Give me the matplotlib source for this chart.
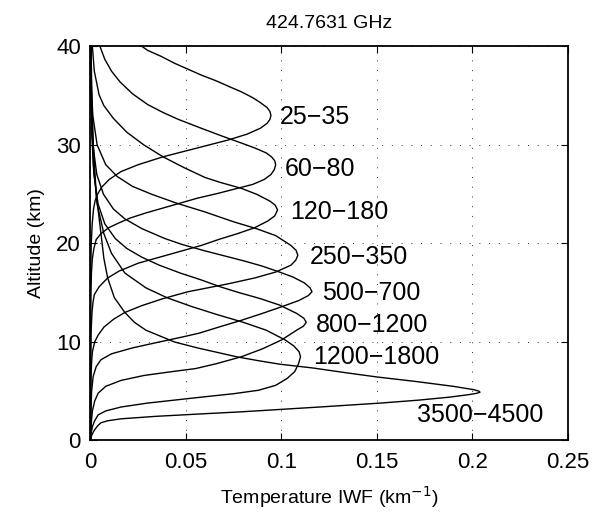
import matplotlib
matplotlib.use('Agg')
import matplotlib.pyplot as plt

plt.rcParams['font.family'] = ['Liberation Sans', 'DejaVu Sans']

# frequency band labels
bands = ['25\u221235', '60\u221280', '120\u2212180', '250\u2212350',
         '500\u2212700', '800\u22121200', '1200\u22121800', '3500\u22124500']

# weighting functions: altitude (km) and IWF (km^-1)
alt_25 = [0, 8, 14, 18, 20, 22, 23.5, 24.4, 25.0, 25.7, 26.5, 27.3, 28.0, 28.8, 29.3, 29.8, 30.5, 31.1,
          31.7, 32.2, 32.6, 33.0, 33.4, 33.8, 34.3, 34.8, 35.4, 35.9, 36.5, 37.1, 37.7, 38.3, 39.0, 39.6, 40]
iwf_25 = [0, 0.00001, 0.00005, 0.0002, 0.0004, 0.0009, 0.0016, 0.0025, 0.0037, 0.0058, 0.0098, 0.016, 0.025,
          0.038, 0.048, 0.058, 0.072, 0.082, 0.089, 0.0925, 0.094, 0.0945, 0.094, 0.0925, 0.089, 0.085, 0.079,
          0.073, 0.066, 0.058, 0.051, 0.044, 0.037, 0.030, 0.027]

alt_60 = [0, 12, 15, 17, 18.5, 19.5, 20.4, 21.0, 21.6, 22.1, 22.6, 23.1, 23.6, 24.1, 24.6, 25.1, 25.6, 26.0,
          26.5, 27.0, 27.5, 28.0, 28.4, 28.8, 29.2, 29.7, 30.2, 30.9, 31.7, 32.6, 33.3, 34.1, 35.2, 36.4, 37.5,
          38.7, 40]
iwf_60 = [0, 0.00003, 0.0002, 0.0005, 0.001, 0.0018, 0.003, 0.0055, 0.0095, 0.015, 0.021, 0.029, 0.038, 0.047,
          0.056, 0.067, 0.077, 0.085, 0.091, 0.0945, 0.0963, 0.097, 0.0965, 0.0948, 0.092, 0.086, 0.079, 0.069,
          0.058, 0.046, 0.038, 0.030, 0.022, 0.0155, 0.011, 0.0075, 0.005]

alt_120 = [0, 8, 11, 13, 14.0, 14.8, 15.6, 16.5, 17.2, 18.0, 18.6, 19.2, 19.8, 20.4, 21.0, 21.6, 22.3, 22.8,
           23.4, 23.9, 24.3, 25.0, 25.6, 26.2, 26.7, 27.7, 28.8, 30.0, 31.3, 32.7, 34.0, 35.1, 37.5, 40]
iwf_120 = [0, 0.0001, 0.0003, 0.0008, 0.0013, 0.002, 0.0045, 0.009, 0.015, 0.025, 0.036, 0.047, 0.058, 0.067,
           0.077, 0.086, 0.093, 0.0965, 0.098, 0.0967, 0.094, 0.087, 0.079, 0.068, 0.060, 0.049, 0.038, 0.028,
           0.019, 0.012, 0.007, 0.0045, 0.002, 0.001]

alt_250 = [0, 6, 8, 9, 10, 10.7, 11.5, 12.3, 13.0, 13.7, 14.4, 15.1, 15.9, 16.5, 17.1, 17.8, 18.3, 18.8, 19.3,
           19.8, 20.8, 21.5, 22.2, 23.2, 24.1, 25.0, 25.8, 26.8, 28, 30, 33, 36, 40]
iwf_250 = [0, 0.0002, 0.0006, 0.001, 0.0022, 0.004, 0.007, 0.012, 0.018, 0.027, 0.038, 0.051, 0.072, 0.086,
           0.097, 0.105, 0.1075, 0.1086, 0.1077, 0.105, 0.097, 0.087, 0.075, 0.060, 0.045, 0.032, 0.022, 0.014,
           0.008, 0.0035, 0.0012, 0.0005, 0.0002]

alt_500 = [0, 3, 5, 6.5, 7.5, 8.2, 8.8, 9.4, 10.0, 10.5, 10.9, 11.5, 12.2, 12.9, 13.5, 14.2, 14.7, 15.1, 15.5,
           16.0, 16.6, 17.1, 17.7, 18.2, 18.8, 19.3, 19.9, 20.5, 21.5, 22.5, 23.5, 25, 27, 30, 34, 40]
iwf_500 = [0, 0.0002, 0.0006, 0.0014, 0.003, 0.0055, 0.011, 0.022, 0.036, 0.048, 0.057, 0.067, 0.079, 0.09,
           0.099, 0.109, 0.114, 0.116, 0.115, 0.112, 0.106, 0.099, 0.09, 0.081, 0.069, 0.059, 0.048, 0.039,
           0.027, 0.018, 0.012, 0.0068, 0.0033, 0.0013, 0.0005, 0.0002]

alt_800 = [0, 1.5, 3, 4.0, 4.8, 5.5, 6.1, 6.6, 7.0, 7.3, 7.8, 8.5, 9.3, 10.2, 11.2, 11.6, 12.0, 12.4, 12.9,
           13.75, 14.4, 15.0, 15.6, 16.3, 17.0, 17.8, 18.6, 19.5, 20.5, 22, 24, 27, 31, 35, 40]
iwf_800 = [0, 0.0003, 0.001, 0.0022, 0.004, 0.008, 0.016, 0.028, 0.043, 0.055, 0.066, 0.079, 0.09, 0.1, 0.108,
           0.1115, 0.113, 0.1118, 0.108, 0.099, 0.089, 0.078, 0.068, 0.058, 0.047, 0.036, 0.027, 0.019, 0.013,
           0.0075, 0.004, 0.0018, 0.0007, 0.0003, 0.0001]

alt_1200 = [0, 0.7, 1.4, 2.0, 2.6, 3.0, 3.4, 3.8, 4.1, 4.4, 4.75, 5.1, 5.6, 6.3, 7.0, 7.8, 8.5, 9.0, 9.6, 10.2,
            11.2, 12.0, 12.8, 13.6, 14.5, 15.5, 17, 19, 21, 24, 28, 34, 40]
iwf_1200 = [0, 0.0003, 0.001, 0.0022, 0.004, 0.008, 0.016, 0.03, 0.044, 0.058, 0.075, 0.088, 0.097, 0.103,
            0.107, 0.109, 0.110, 0.1093, 0.1065, 0.102, 0.092, 0.080, 0.066, 0.053, 0.040, 0.029, 0.018, 0.011,
            0.007, 0.0035, 0.0015, 0.0005, 0.0002]

alt_3500 = [0, 0.3, 0.6, 0.9, 1.2, 1.5, 1.8, 2.0, 2.2, 2.45, 2.7, 2.9, 3.1, 3.4, 3.8, 4.1, 4.4, 4.65, 4.8, 4.9,
            5.0, 5.15, 5.5, 6.0, 6.45, 6.9, 7.36, 7.75, 8.1, 8.48, 9.4, 10.0, 11.2, 12.0, 13.0, 14.5, 16.5, 18.5,
            21, 25, 30, 35, 40]
iwf_3500 = [0, 0.0003, 0.0008, 0.0016, 0.0026, 0.0038, 0.0055, 0.009, 0.016, 0.034, 0.058, 0.078, 0.095, 0.12,
            0.152, 0.172, 0.188, 0.198, 0.2025, 0.204, 0.2035, 0.201, 0.19, 0.17, 0.15, 0.133, 0.1165, 0.099,
            0.088, 0.077, 0.056, 0.044, 0.029, 0.023, 0.018, 0.0125, 0.009, 0.007, 0.0055, 0.003, 0.0015, 0.0007,
            0.0003]

curves = [(alt_25, iwf_25), (alt_60, iwf_60), (alt_120, iwf_120), (alt_250, iwf_250),
          (alt_500, iwf_500), (alt_800, iwf_800), (alt_1200, iwf_1200), (alt_3500, iwf_3500)]

# label anchor (left edge, vertical centre)
label_x = [0.0992, 0.102, 0.1045, 0.1149, 0.1212, 0.118, 0.1165, 0.171]
label_y = [32.8, 27.6, 23.2, 18.6, 15.0, 11.7, 8.5, 2.6]

fig = plt.figure(figsize=(6.06, 5.2), dpi=100)
ax = fig.add_axes([0.1493, 0.1529, 0.7877, 0.7577])

for (alt, iwf) in curves:
    ax.plot(iwf, alt, color='black', lw=1.0)

for name, lx, ly in zip(bands, label_x, label_y):
    ax.text(lx, ly, name, fontsize=18, ha='left', va='center')

ax.set_xlim(0, 0.25)
ax.set_ylim(0, 40)
ax.set_xticks([0, 0.05, 0.1, 0.15, 0.2, 0.25])
ax.set_xticklabels(['0', '0.05', '0.1', '0.15', '0.2', '0.25'])
ax.set_yticks([0, 10, 20, 30, 40])
ax.tick_params(direction='in', top=True, right=True, labelsize=16, length=5, width=0.8)
ax.tick_params(axis='x', pad=8)
ax.tick_params(axis='y', pad=7)
ax.grid(True, color='0.2', linestyle=(0, (1, 9)), lw=0.7)
for sp in ax.spines.values():
    sp.set_linewidth(1.3)

ax.set_title('424.7631 GHz', fontsize=14, pad=13)
ax.set_xlabel('Temperature IWF (km$^{-1}$)', fontsize=14, labelpad=8)
ax.set_ylabel('Altitude (km)', fontsize=14, labelpad=8)

fig.savefig('out.png', dpi=100)
